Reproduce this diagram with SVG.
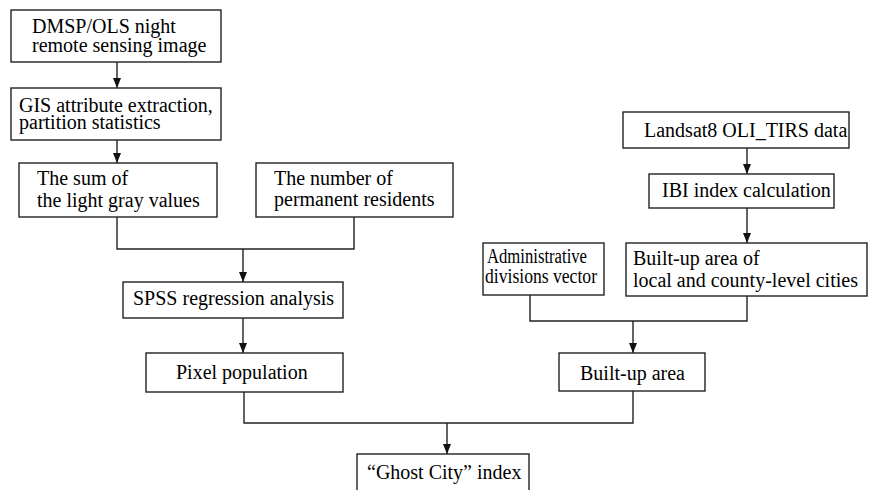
<svg xmlns="http://www.w3.org/2000/svg" width="869" height="490" viewBox="0 0 869 490">
<defs>
<marker id="ah" markerUnits="userSpaceOnUse" markerWidth="10" markerHeight="10" viewBox="0 0 10 10" refX="10" refY="5" orient="auto">
<path d="M0,1 L10,5 L0,9 Z" fill="#111"/>
</marker>
</defs>
<rect width="869" height="490" fill="#fff"/>
<g id="connectors" fill="none" stroke="#222" stroke-width="1.4">
<path d="M117,62 V88" marker-end="url(#ah)"/>
<path d="M117,140 V163" marker-end="url(#ah)"/>
<path d="M117,217 V249 H354 V217"/>
<path d="M243,249 V282" marker-end="url(#ah)"/>
<path d="M243,318 V353" marker-end="url(#ah)"/>
<path d="M747,148 V174" marker-end="url(#ah)"/>
<path d="M747,208 V243" marker-end="url(#ah)"/>
<path d="M530,295 V321 H747 V296"/>
<path d="M633,321 V353" marker-end="url(#ah)"/>
<path d="M244,392 V423 H633 V391"/>
<path d="M447,423 V454" marker-end="url(#ah)"/>
</g>
<g id="nodes" font-family="Liberation Serif" font-size="20">
<g id="dmsp"><rect x="11" y="10" width="210" height="52" fill="#fff" stroke="#222" stroke-width="1.4"/><text x="32" y="33">DMSP/OLS night</text><text x="32" y="52">remote sensing image</text></g>
<g id="gis"><rect x="11" y="88" width="210" height="52" fill="#fff" stroke="#222" stroke-width="1.4"/><text x="19" y="112">GIS attribute extraction,</text><text x="19" y="129">partition statistics</text></g>
<g id="sum"><rect x="19" y="163" width="198" height="54" fill="#fff" stroke="#222" stroke-width="1.4"/><text x="37" y="185">The sum of</text><text x="37" y="207">the light gray values</text></g>
<g id="residents"><rect x="256" y="163" width="197" height="54" fill="#fff" stroke="#222" stroke-width="1.4"/><text x="274" y="185">The number of</text><text x="274" y="206">permanent residents</text></g>
<g id="spss"><rect x="123" y="282" width="220" height="36" fill="#fff" stroke="#222" stroke-width="1.4"/><text x="133" y="305">SPSS regression analysis</text></g>
<g id="pixel"><rect x="146" y="353" width="197" height="39" fill="#fff" stroke="#222" stroke-width="1.4"/><text x="176" y="379">Pixel population</text></g>
<g id="landsat"><rect x="623" y="112" width="226" height="36" fill="#fff" stroke="#222" stroke-width="1.4"/><text x="644" y="137">Landsat8 OLI_TIRS data</text></g>
<g id="ibi"><rect x="649" y="174" width="185" height="34" fill="#fff" stroke="#222" stroke-width="1.4"/><text x="662" y="197">IBI index calculation</text></g>
<g id="admin"><rect x="483" y="243" width="121" height="52" fill="#fff" stroke="#222" stroke-width="1.4"/><text x="487" y="263" textLength="100" lengthAdjust="spacingAndGlyphs">Administrative</text><text x="485" y="283" textLength="112" lengthAdjust="spacingAndGlyphs">divisions vector</text></g>
<g id="builtlocal"><rect x="626" y="243" width="241" height="53" fill="#fff" stroke="#222" stroke-width="1.4"/><text x="633" y="265">Built-up area of</text><text x="633" y="287">local and county-level cities</text></g>
<g id="builtup"><rect x="559" y="353" width="146" height="38" fill="#fff" stroke="#222" stroke-width="1.4"/><text x="580" y="380">Built-up area</text></g>
<g id="ghost"><rect x="357" y="454" width="172" height="50" fill="#fff" stroke="#222" stroke-width="1.4"/><text x="367" y="479">“Ghost City” index</text></g>
</g>
</svg>
